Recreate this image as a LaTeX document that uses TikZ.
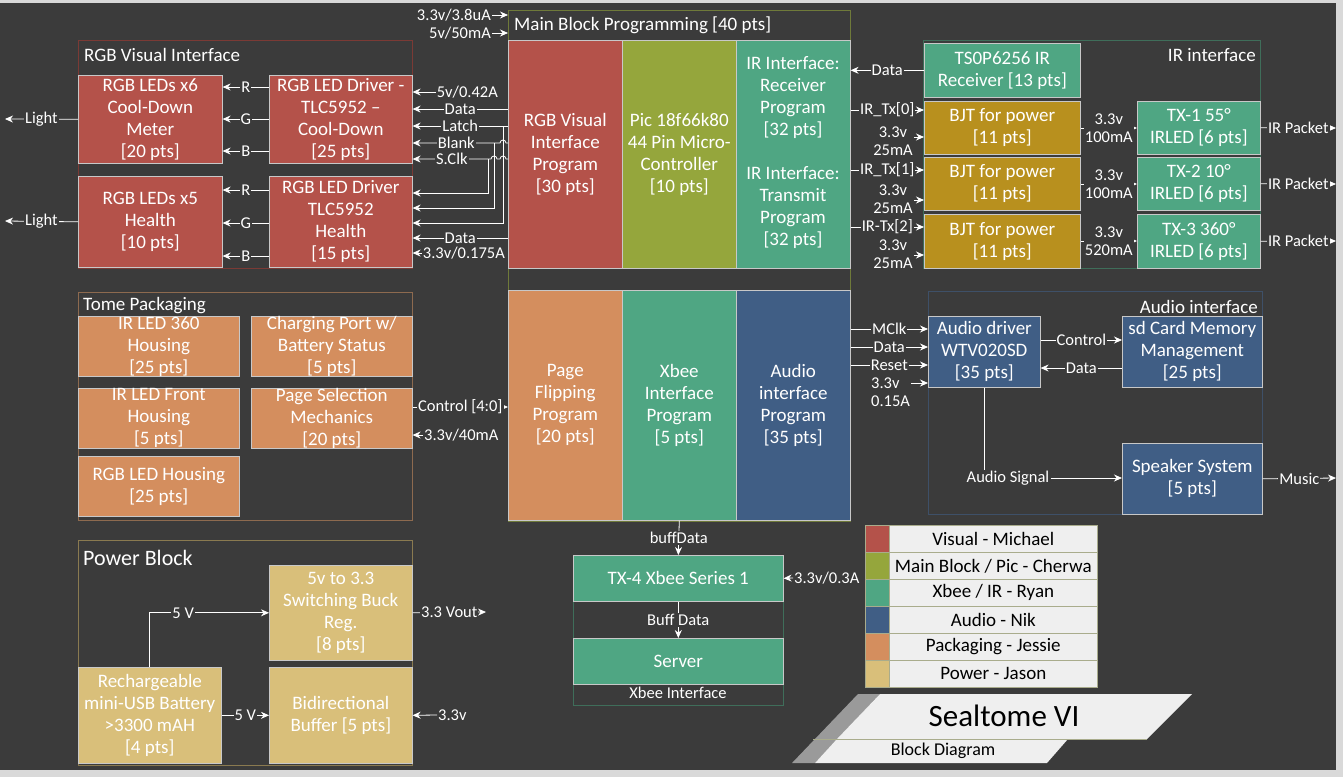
\documentclass[tikz,border=0pt]{standalone}
\usepackage{fontspec}
\setmainfont{Carlito}
\usetikzlibrary{arrows.meta}

\definecolor{bg}{HTML}{3B3B3B}
\definecolor{frame}{HTML}{D9D9D9}
\definecolor{boxline}{HTML}{C8C8C8}
\definecolor{cred}{HTML}{B4524A}
\definecolor{colive}{HTML}{95A63C}
\definecolor{cteal}{HTML}{4FA683}
\definecolor{cblue}{HTML}{405E85}
\definecolor{corange}{HTML}{D48E5E}
\definecolor{ctan}{HTML}{D9BF7A}
\definecolor{cgold}{HTML}{B8901E}
\definecolor{legbg}{HTML}{EFEFEF}
\definecolor{legline}{HTML}{A9AC8C}
\definecolor{ttlgray}{HTML}{9A9A9A}
\definecolor{grpred}{HTML}{7B3A35}
\definecolor{grpolive}{HTML}{6F7A3A}
\definecolor{grpteal}{HTML}{3F6E5A}
\definecolor{grporange}{HTML}{8D6A4F}
\definecolor{grpblue}{HTML}{3E5068}
\definecolor{grptan}{HTML}{8A7A50}

\tikzset{
    box/.style={draw=boxline,line width=0.6pt,text=white,align=center,inner sep=0pt,anchor=north west,font=\fontsize{19}{22}\selectfont},
    sz/.style 2 args={minimum width=#1pt,minimum height=#2pt},
    lbl/.style={text=white,fill=bg,inner sep=1pt,align=center,font=\fontsize{16.5}{18}\selectfont},
    wire/.style={draw=white,line width=0.8pt},
    grp/.style={draw=#1,line width=0.8pt},
    ttl/.style={text=white,inner sep=0pt,font=\fontsize{19}{22}\selectfont},
    leg/.style={draw=legline,line width=0.6pt,fill=legbg,text=black,inner sep=0pt,anchor=north west,minimum height=27pt,font=\fontsize{19}{22}\selectfont}
}

\begin{document}
\begin{tikzpicture}[x=1pt,y=-1pt,>={Stealth[length=8pt,width=7pt]}]
    \useasboundingbox (0,0) rectangle (1343,777);
    \fill[frame] (0,0) rectangle (1343,777);
    \fill[bg] (0,3) rectangle (1336,770);

    % RGB visual interface
    \draw[grp=grpred] (78,40) rectangle (412,268);
    \node[ttl,anchor=west] (rgbTtl) at (84,55) {RGB Visual Interface};
    \node[box,fill=cred,sz={144}{88}] (ledA) at (78,75) {RGB LEDs x6\\Cool-Down\\Meter\\{}[20 pts]};
    \node[box,fill=cred,sz={143}{88}] (drvA) at (269,75) {RGB LED Driver -\\TLC5952 --\\Cool-Down\\{}[25 pts]};
    \node[box,fill=cred,sz={144}{91}] (ledB) at (78,176) {RGB LEDs x5\\Health\\{}[10 pts]};
    \node[box,fill=cred,sz={143}{91}] (drvB) at (269,176) {RGB LED Driver\\TLC5952\\Health\\{}[15 pts]};
    \coordinate (lightA) at (5,119);
    \coordinate (lightB) at (5,221);
    \draw[wire,->] (ledA.west) -- node[lbl]{Light} (lightA);
    \draw[wire,->] (ledB.west) -- node[lbl]{Light} (lightB);
    \draw[wire,->] (drvA.west |- 0,87) -- node[lbl]{R} (ledA.east |- 0,87);
    \draw[wire,->] (drvA.west |- 0,119) -- node[lbl]{G} (ledA.east |- 0,119);
    \draw[wire,->] (drvA.west |- 0,151) -- node[lbl]{B} (ledA.east |- 0,151);
    \draw[wire,->] (drvB.west |- 0,190) -- node[lbl]{R} (ledB.east |- 0,190);
    \draw[wire,->] (drvB.west |- 0,223) -- node[lbl]{G} (ledB.east |- 0,223);
    \draw[wire,->] (drvB.west |- 0,256) -- node[lbl]{B} (ledB.east |- 0,256);

    % Main block programming
    \draw[grp=grpolive] (508,10) rectangle (850,521);
    \node[ttl,anchor=west] (mainTtl) at (514,25) {Main Block Programming [40 pts]};
    \node[box,fill=cred,sz={114}{228}] (rgbp) at (508,40) {RGB Visual\\Interface\\Program\\{}[30 pts]};
    \node[box,fill=colive,sz={114}{228}] (picp) at (622,40) {Pic 18f66k80\\44 Pin Micro-\\Controller\\{}[10 pts]};
    \node[box,fill=cteal,sz={114}{228}] (irp) at (736,40) {};
    \node[ttl,align=center] (irRx) at (793,98) {IR Interface:\\Receiver\\Program\\{}[32 pts]};
    \node[ttl,align=center] (irTx) at (793,208) {IR Interface:\\Transmit\\Program\\{}[32 pts]};
    \node[box,fill=corange,sz={114}{230}] (pagep) at (508,290) {Page\\Flipping\\Program\\{}[20 pts]};
    \node[box,fill=cteal,sz={114}{230}] (xbeep) at (622,290) {Xbee\\Interface\\Program\\{}[5 pts]};
    \node[box,fill=cblue,sz={114}{230}] (audp) at (736,290) {Audio\\interface\\Program\\{}[35 pts]};
    \coordinate (pwrA) at (508,15);
    \coordinate (pwrB) at (508,33);
    \node[lbl,anchor=east] (mainV1) at (492,15) {3.3v/3.8uA};
    \node[lbl,anchor=east] (mainV2) at (492,33) {5v/50mA};
    \draw[wire,->] (mainV1.east) -- (pwrA);
    \draw[wire,->] (mainV2.east) -- (pwrB);

    % driver signals
    \coordinate (pData) at (508,109);
    \coordinate (pLatch) at (508,126);
    \coordinate (pBlank) at (508,143);
    \coordinate (pSclk) at (508,159);
    \coordinate (pDataB) at (508,238);
    \coordinate (jLatch) at (503,126);
    \coordinate (jBlank) at (494,143);
    \coordinate (jSclk) at (488,159);
    \node[lbl,anchor=east] (drvV1) at (499,92) {5v/0.42A};
    \draw[wire,->] (drvV1.west) -- (drvV1.west -| drvA.east);
    \draw[wire,->] (pData) -- node[lbl]{Data} (pData -| drvA.east);
    \draw[wire,->] (pLatch) -- node[lbl]{Latch} (pLatch -| drvA.east);
    \draw[wire,->] (pBlank) -- ++(-2,0) arc[start angle=0,end angle=180,radius=3pt]
        -- node[lbl]{Blank} (pBlank -| drvA.east);
    \draw[wire,->] (pSclk) -- ++(-2,0) arc[start angle=0,end angle=180,radius=3pt]
        -- ++(-3,0) arc[start angle=0,end angle=180,radius=3pt]
        -- node[lbl]{S.Clk} (pSclk -| drvA.east);
    \draw[wire,->] (jLatch) |- (drvB.east |- 0,223);
    \draw[wire,->] (jBlank) |- (drvB.east |- 0,208);
    \draw[wire,->] (jSclk) |- (drvB.east |- 0,193);
    \draw[wire,->] (pDataB) -- node[lbl]{Data} (pDataB -| drvB.east);
    \node[lbl,anchor=east] (drvV2) at (506,253) {3.3v/0.175A};
    \draw[wire,->] (drvV2.west) -- (drvV2.west -| drvB.east);

    % IR interface
    \draw[grp=grpteal] (923,40) rectangle (1260,268);
    \node[ttl,anchor=east] (irTtl) at (1256,55) {IR interface};
    \node[box,fill=cteal,sz={156}{54}] (rcv) at (924,43) {TS0P6256 IR\\Receiver [13 pts]};
    \node[box,fill=cgold,sz={156}{53}] (bjtA) at (924,101) {BJT for power\\{}[11 pts]};
    \node[box,fill=cgold,sz={156}{53}] (bjtB) at (924,157) {BJT for power\\{}[11 pts]};
    \node[box,fill=cgold,sz={156}{54}] (bjtC) at (924,214) {BJT for power\\{}[11 pts]};
    \node[box,fill=cteal,sz={123}{53}] (txA) at (1137,101) {TX-1 55°\\IRLED [6 pts]};
    \node[box,fill=cteal,sz={123}{53}] (txB) at (1137,157) {TX-2 10°\\IRLED [6 pts]};
    \node[box,fill=cteal,sz={123}{54}] (txC) at (1137,214) {TX-3 360°\\IRLED [6 pts]};
    \draw[wire,->] (rcv.west) -- node[lbl]{Data} (rcv.west -| irp.east);
    \draw[wire,->] (irp.east |- 0,110) -- node[lbl]{IR\_Tx[0]} (bjtA.west |- 0,110);
    \draw[wire,->] (irp.east |- 0,170) -- node[lbl]{IR\_Tx[1]} (bjtB.west |- 0,170);
    \draw[wire,->] (irp.east |- 0,227) -- node[lbl]{IR-Tx[2]} (bjtC.west |- 0,227);
    \node[lbl] (bjtVA) at (893,141) {3.3v\\25mA};
    \node[lbl] (bjtVB) at (893,199) {3.3v\\25mA};
    \node[lbl] (bjtVC) at (893,254) {3.3v\\25mA};
    \draw[wire,->] (bjtVA.east |- 0,137) -- (bjtA.west |- 0,137);
    \draw[wire,->] (bjtVB.east |- 0,200) -- (bjtB.west |- 0,200);
    \draw[wire,->] (bjtVC.east |- 0,255) -- (bjtC.west |- 0,255);
    \draw[wire,->] (bjtA.east |- 0,128) -- node[lbl]{3.3v\\100mA} (txA.west |- 0,128);
    \draw[wire,->] (bjtB.east |- 0,184) -- node[lbl]{3.3v\\100mA} (txB.west |- 0,184);
    \draw[wire,->] (bjtC.east |- 0,241) -- node[lbl]{3.3v\\520mA} (txC.west |- 0,241);
    \coordinate (pktA) at (1336,128);
    \coordinate (pktB) at (1336,184);
    \coordinate (pktC) at (1336,241);
    \draw[wire,->] (txA.east) -- node[lbl]{IR Packet} (pktA);
    \draw[wire,->] (txB.east) -- node[lbl]{IR Packet} (pktB);
    \draw[wire,->] (txC.east) -- node[lbl]{IR Packet} (pktC);

    % Tome packaging
    \draw[grp=grporange] (78,292) rectangle (412,520);
    \node[ttl,anchor=west] (tomeTtl) at (83,306) {Tome Packaging};
    \node[box,fill=corange,sz={161}{60}] (hsA) at (78,316) {IR LED 360\\Housing\\{}[25 pts]};
    \node[box,fill=corange,sz={161}{60}] (chg) at (251,316) {Charging Port w/\\Battery Status\\{}[5 pts]};
    \node[box,fill=corange,sz={161}{60}] (hsB) at (78,388) {IR LED Front\\Housing\\{}[5 pts]};
    \node[box,fill=corange,sz={161}{60}] (pgs) at (251,388) {Page Selection\\Mechanics\\{}[20 pts]};
    \node[box,fill=corange,sz={161}{60}] (hsC) at (78,456) {RGB LED Housing\\{}[25 pts]};
    \draw[wire,->] (pgs.east |- 0,407) -- node[lbl]{Control [4:0]} (pagep.west |- 0,407);
    \node[lbl,anchor=west] (pgsV) at (423,435) {3.3v/40mA};
    \draw[wire,->] (pgsV.west) -- (pgsV.west -| pgs.east);

    % Audio interface
    \draw[grp=grpblue] (928,291) rectangle (1262,514);
    \node[ttl,anchor=east] (audTtl) at (1258,307) {Audio interface};
    \node[box,fill=cblue,sz={112}{71}] (adrv) at (928,316) {Audio driver\\WTV020SD\\{}[35 pts]};
    \node[box,fill=cblue,sz={140}{71}] (sdc) at (1122,316) {sd Card Memory\\Management\\{}[25 pts]};
    \node[box,fill=cblue,sz={140}{71}] (spk) at (1122,443) {Speaker System\\{}[5 pts]};
    \draw[wire,->] (adrv.east |- 0,340) -- node[lbl]{Control} (sdc.west |- 0,340);
    \draw[wire,->] (sdc.west |- 0,368) -- node[lbl]{Data} (adrv.east |- 0,368);
    \node[lbl] (asig) at (1008,478) {Audio Signal};
    \draw[wire] (adrv.south) -- (adrv.south |- asig.north);
    \draw[wire,->] (asig.east) -- (spk.west |- asig.east);
    \coordinate (music) at (1336,478);
    \draw[wire,->] (spk.east) -- node[lbl]{Music} (music);
    \draw[wire,->] (audp.east |- 0,329) -- node[lbl]{MClk} (adrv.west |- 0,329);
    \draw[wire,->] (audp.east |- 0,347) -- node[lbl]{Data} (adrv.west |- 0,347);
    \draw[wire,->] (audp.east |- 0,365) -- node[lbl]{Reset} (adrv.west |- 0,365);
    \node[lbl,align=left,anchor=west] (audV) at (870,392) {3.3v\\0.15A};
    \draw[wire,->] (audV.east |- 0,383) -- (adrv.west |- 0,383);

    % Power block
    \draw[grp=grptan] (78,540) rectangle (412,765);
    \node[ttl,anchor=west,font=\fontsize{22}{26}\selectfont] (pwrTtl) at (83,558) {Power Block};
    \node[box,fill=ctan,sz={143}{95}] (buck) at (269,565) {5v to 3.3\\Switching Buck\\Reg.\\{}[8 pts]};
    \node[box,fill=ctan,sz={143}{96}] (batt) at (78,667) {Rechargeable\\mini-USB Battery\\>3300 mAH\\{}[4 pts]};
    \node[box,fill=ctan,sz={143}{96}] (buf) at (269,667) {Bidirectional\\Buffer [5 pts]};
    \draw[wire,->] (batt.north) |- node[lbl,pos=0.64]{5 V} (buck.west);
    \draw[wire,->] (batt.east) -- node[lbl]{5 V} (buf.west);
    \coordinate (vout) at (486,612);
    \draw[wire,->] (buck.east) -- node[lbl]{3.3 Vout} (vout);
    \node[lbl,anchor=west] (bufV) at (437,715) {3.3v};
    \draw[wire,->] (bufV.west) -- (buf.east);

    % Xbee interface
    \draw[grp=grpteal] (573,555) rectangle (783,705);
    \node[box,fill=cteal,sz={210}{46}] (xb4) at (573,555) {TX-4 Xbee Series 1};
    \node[box,fill=cteal,sz={210}{46}] (srv) at (573,638) {Server};
    \node[lbl] (xbTtl) at (678,693) {Xbee Interface};
    \draw[wire,->] (xbeep.south) -- node[lbl]{buffData} (xb4.north);
    \draw[wire,->] (xb4.south) -- node[lbl]{Buff Data} (srv.north);
    \node[lbl,anchor=west] (xbV) at (793,578) {3.3v/0.3A};
    \draw[wire,->] (xbV.west) -- (xb4.east);

    % legend
    \node[leg,fill=cred,minimum width=24pt] (swA) at (865,525) {};
    \node[leg,minimum width=208pt] (lgA) at (889,525) {Visual - Michael};
    \node[leg,fill=colive,minimum width=24pt] (swB) at (865,552) {};
    \node[leg,minimum width=208pt] (lgB) at (889,552) {Main Block / Pic - Cherwa};
    \node[leg,fill=cteal,minimum width=24pt] (swC) at (865,579) {};
    \node[leg,minimum width=208pt] (lgC) at (889,579) {Xbee / IR - Ryan};
    \node[leg,fill=cblue,minimum width=24pt] (swD) at (865,606) {};
    \node[leg,minimum width=208pt] (lgD) at (889,606) {Audio - Nik};
    \node[leg,fill=corange,minimum width=24pt] (swE) at (865,633) {};
    \node[leg,minimum width=208pt] (lgE) at (889,633) {Packaging - Jessie};
    \node[leg,fill=ctan,minimum width=24pt] (swF) at (865,660) {};
    \node[leg,minimum width=208pt] (lgF) at (889,660) {Power - Jason};

    % title banner
    \fill[ttlgray] (858,694) -- (880,694) -- (815,763) -- (792,763) -- cycle;
    \fill[legbg] (880,694) -- (1192,694) -- (1147,739) -- (837,739) -- cycle;
    \fill[legbg] (837,739) -- (1068,739) -- (1047,763) -- (815,763) -- cycle;
    \draw[legline] (813,739) -- (1147,739);
    \node[text=black,font=\fontsize{31}{36}\selectfont] (ttlMain) at (1004,716) {Sealtome VI};
    \node[text=black,font=\fontsize{18}{21}\selectfont] (ttlSub) at (943,751) {Block Diagram};
\end{tikzpicture}
\end{document}
